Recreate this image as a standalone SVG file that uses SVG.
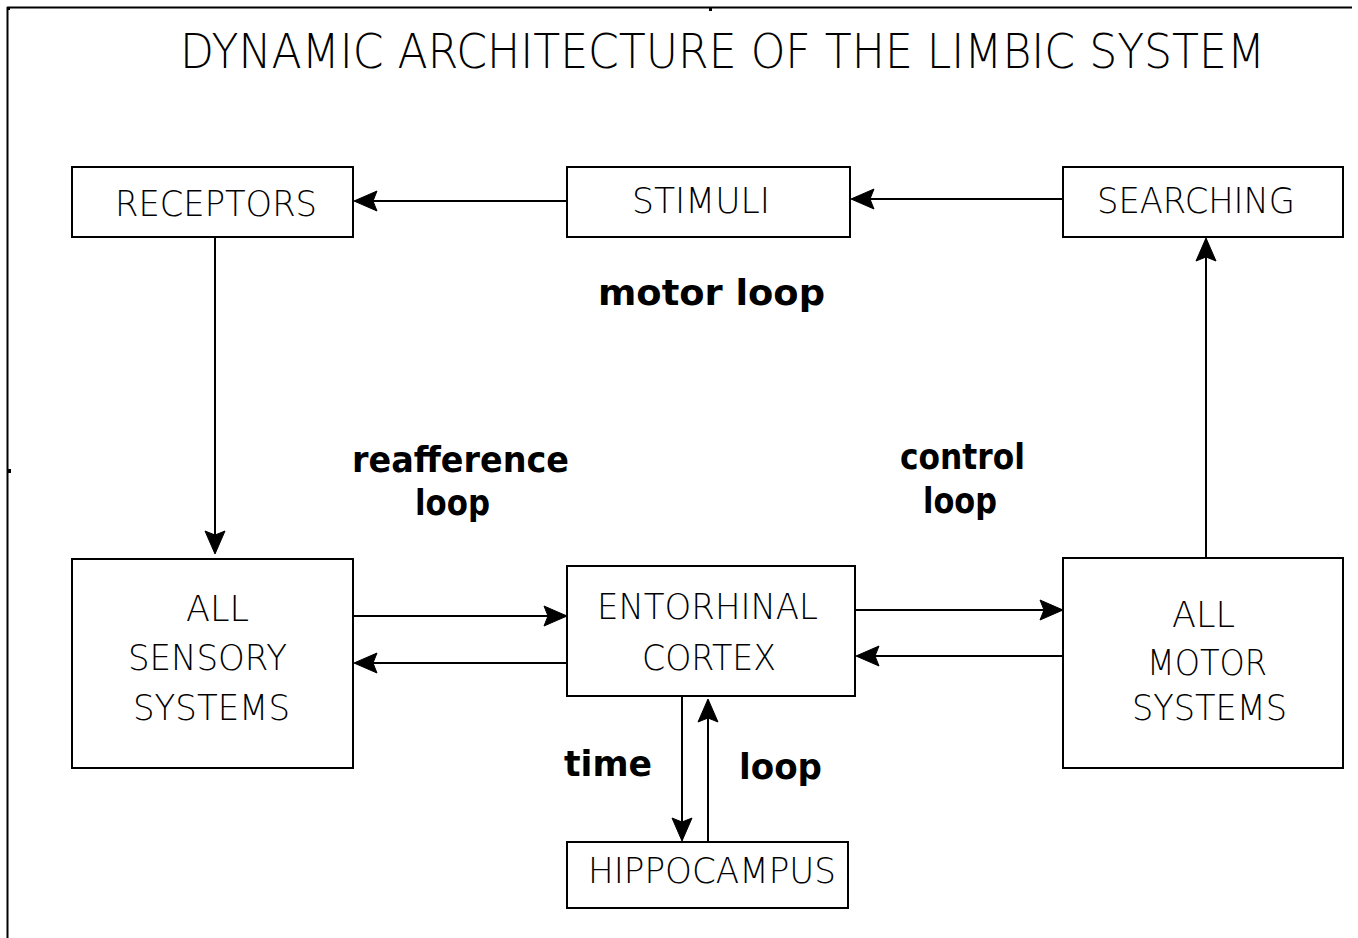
<svg xmlns="http://www.w3.org/2000/svg" width="1358" height="938" viewBox="0 0 1358 938">
<style>
.box{fill:#fff;stroke:#000;stroke-width:2}
.lbl{font-family:"DejaVu Sans","Liberation Sans",sans-serif;font-weight:200;font-size:36px;fill:#000}
.ttl{font-family:"DejaVu Sans","Liberation Sans",sans-serif;font-weight:200;font-size:48px;fill:#000}
.bold{font-family:"DejaVu Sans","Liberation Sans",sans-serif;font-weight:bold;font-size:36px;fill:#000}
.con{fill:none;stroke:#000;stroke-width:2}
</style>
<defs>
<marker id="ah" viewBox="-24 -12 26 24" refX="0" refY="0" markerWidth="26" markerHeight="24" markerUnits="userSpaceOnUse" orient="auto">
<path d="M1,0 L-22,-10 L-18,0 L-22,10 Z" fill="#000" stroke="#000" stroke-width="1" stroke-linejoin="round"/>
</marker>
</defs>
<rect width="1358" height="938" fill="#fff"/>
<g id="frame">
<line x1="7" y1="7.5" x2="1352" y2="7.5" stroke="#000" stroke-width="2"/>
<line x1="7.5" y1="7" x2="7.5" y2="938" stroke="#000" stroke-width="2"/>
<rect x="7" y="7" width="3" height="3" fill="#000"/>
<rect x="7" y="469" width="4" height="4" fill="#000"/>
<rect x="709" y="7" width="3" height="4" fill="#000"/>
</g>
<text class="ttl" x="180" y="68" textLength="1085" lengthAdjust="spacingAndGlyphs">DYNAMIC ARCHITECTURE OF THE LIMBIC SYSTEM</text>
<g id="connectors">
<line class="con" x1="567" y1="201" x2="355" y2="201" marker-end="url(#ah)"/>
<line class="con" x1="1063" y1="199" x2="852" y2="199" marker-end="url(#ah)"/>
<line class="con" x1="215" y1="237" x2="215" y2="553" marker-end="url(#ah)"/>
<line class="con" x1="1206" y1="558" x2="1206" y2="239" marker-end="url(#ah)"/>
<line class="con" x1="353" y1="616" x2="566" y2="616" marker-end="url(#ah)"/>
<line class="con" x1="567" y1="663" x2="355" y2="663" marker-end="url(#ah)"/>
<line class="con" x1="855" y1="610" x2="1062" y2="610" marker-end="url(#ah)"/>
<line class="con" x1="1063" y1="656" x2="857" y2="656" marker-end="url(#ah)"/>
<line class="con" x1="682" y1="696" x2="682" y2="840" marker-end="url(#ah)"/>
<line class="con" x1="708" y1="842" x2="708" y2="700" marker-end="url(#ah)"/>
</g>
<g id="receptors">
<rect class="box" x="72" y="167" width="281" height="70"/>
<text class="lbl" x="115" y="216" textLength="202" lengthAdjust="spacingAndGlyphs">RECEPTORS</text>
</g>
<g id="stimuli">
<rect class="box" x="567" y="167" width="283" height="70"/>
<text class="lbl" x="632" y="213" textLength="138" lengthAdjust="spacingAndGlyphs">STIMULI</text>
</g>
<g id="searching">
<rect class="box" x="1063" y="167" width="280" height="70"/>
<text class="lbl" x="1097" y="213" textLength="198" lengthAdjust="spacingAndGlyphs">SEARCHING</text>
</g>
<g id="sensory">
<rect class="box" x="72" y="559" width="281" height="209"/>
<text class="lbl" x="186" y="621" textLength="63" lengthAdjust="spacingAndGlyphs">ALL</text>
<text class="lbl" x="128" y="670" textLength="159" lengthAdjust="spacingAndGlyphs">SENSORY</text>
<text class="lbl" x="133" y="720" textLength="157" lengthAdjust="spacingAndGlyphs">SYSTEMS</text>
</g>
<g id="entorhinal">
<rect class="box" x="567" y="566" width="288" height="130"/>
<text class="lbl" x="597" y="619" textLength="221" lengthAdjust="spacingAndGlyphs">ENTORHINAL</text>
<text class="lbl" x="642" y="670" textLength="134" lengthAdjust="spacingAndGlyphs">CORTEX</text>
</g>
<g id="motor">
<rect class="box" x="1063" y="558" width="280" height="210"/>
<text class="lbl" x="1172" y="627" textLength="63" lengthAdjust="spacingAndGlyphs">ALL</text>
<text class="lbl" x="1147" y="675" textLength="120" lengthAdjust="spacingAndGlyphs">MOTOR</text>
<text class="lbl" x="1132" y="720" textLength="155" lengthAdjust="spacingAndGlyphs">SYSTEMS</text>
</g>
<g id="hippocampus">
<rect class="box" x="567" y="842" width="281" height="66"/>
<text class="lbl" x="588" y="883" textLength="248" lengthAdjust="spacingAndGlyphs">HIPPOCAMPUS</text>
</g>
<g id="loop-labels">
<text class="bold" x="598" y="305" textLength="227" lengthAdjust="spacingAndGlyphs">motor loop</text>
<text class="bold" x="352" y="472" textLength="217" lengthAdjust="spacingAndGlyphs">reafference</text>
<text class="bold" x="415" y="515" textLength="75" lengthAdjust="spacingAndGlyphs">loop</text>
<text class="bold" x="900" y="469" textLength="125" lengthAdjust="spacingAndGlyphs">control</text>
<text class="bold" x="923" y="513" textLength="74" lengthAdjust="spacingAndGlyphs">loop</text>
<text class="bold" x="564" y="776" textLength="88" lengthAdjust="spacingAndGlyphs">time</text>
<text class="bold" x="739" y="779" textLength="83" lengthAdjust="spacingAndGlyphs">loop</text>
</g>
</svg>
